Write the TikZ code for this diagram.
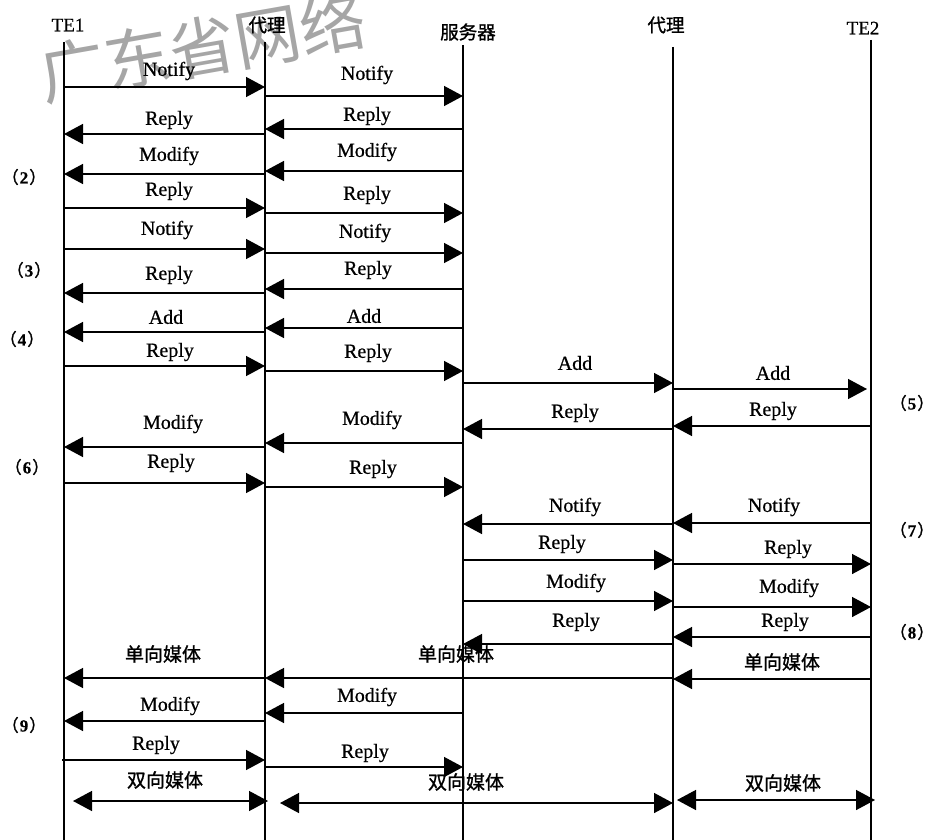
\documentclass[tikz,border=0pt]{standalone}
\usepackage{fontspec}
\setmainfont{Liberation Serif}[FakeBold=0.6]
\newfontfamily\cjk{Noto Sans CJK SC}[FakeBold=1.2]
\newfontfamily\cjkwm{Noto Sans CJK SC}
\newfontfamily\numfont{Liberation Serif}[FakeBold=0.6]
\usetikzlibrary{arrows.meta}
\tikzset{
  msg/.style={line width=1.4pt,-{Triangle[length=19pt,width=20pt]}},
  bimsg/.style={line width=1.4pt,{Triangle[length=19pt,width=20pt]}-{Triangle[length=19pt,width=20pt]}},
  lbl/.style={inner sep=0pt,font=\fontsize{20}{22}\selectfont},
  clbl/.style={inner sep=0pt,font=\cjk\fontsize{19}{21}\selectfont},
  life/.style={line width=1.2pt},
  head/.style={inner sep=0pt,font=\fontsize{19}{21}\selectfont},
  chead/.style={inner sep=0pt,font=\cjk\fontsize{18.5}{20}\selectfont},
  num/.style={inner sep=0pt,font=\fontsize{17}{19}\selectfont},
  wm/.style={inner sep=0pt,text=black!35,font=\cjkwm\fontsize{66}{66}\selectfont,rotate=10}
}
\newcommand\mm[7]{%
  \coordinate (#1s) at (#2,#4);
  \coordinate (#1e) at (#3,#4);
  \draw[msg] (#1s) -- (#1e);
  \node[lbl] (#1l) at (#6,#7) {#5};}
\newcommand\cm[7]{%
  \coordinate (#1s) at (#2,#4);
  \coordinate (#1e) at (#3,#4);
  \draw[msg] (#1s) -- (#1e);
  \node[clbl] (#1l) at (#6,#7) {#5};}
\newcommand\bm[7]{%
  \coordinate (#1s) at (#2,#4);
  \coordinate (#1e) at (#3,#4);
  \draw[bimsg] (#1s) -- (#1e);
  \node[clbl] (#1l) at (#6,#7) {#5};}
\newcommand\stepno[1]{\hspace{-6pt}{\cjk（}\hspace{1pt}{\numfont\bfseries #1}\hspace{1pt}{\cjk）}\hspace{-6pt}}
\begin{document}
\begin{tikzpicture}[x=1pt,y=-1pt]
\useasboundingbox (0,0) rectangle (934,840);
\begin{scope}
\clip (0,0) rectangle (934,840);
\node[wm] (water) at (203,47) {广东省网络};
\end{scope}
% headers
\node[head] (hte1) at (68,25) {TE1};
\node[chead] (hp1) at (267,25) {代理};
\node[chead] (hs) at (468,32) {服务器};
\node[chead] (hp2) at (666,25) {代理};
\node[head] (hte2) at (863,28) {TE2};
% lifelines
\coordinate (t1) at (64,42);  \coordinate (b1) at (64,840);
\coordinate (t2) at (265,42); \coordinate (b2) at (265,840);
\coordinate (t3) at (463,45); \coordinate (b3) at (463,840);
\coordinate (t4) at (673,47); \coordinate (b4) at (673,840);
\coordinate (t5) at (871,40); \coordinate (b5) at (871,840);
\foreach \i in {1,...,5} \draw[life] (t\i) -- (b\i);
% messages
\mm{a1}{64}{265}{87}{Notify}{169}{71}
\mm{a2}{265}{463}{96}{Notify}{367}{75}
\mm{b1}{265}{64}{134}{Reply}{169}{120}
\mm{b2}{463}{265}{129}{Reply}{367}{116}
\mm{c1}{265}{64}{174}{Modify}{169}{156}
\mm{c2}{463}{265}{171}{Modify}{367}{152}
\mm{d1}{64}{265}{208}{Reply}{169}{191}
\mm{d2}{265}{463}{213}{Reply}{367}{195}
\mm{e1}{64}{265}{249}{Notify}{167}{230}
\mm{e2}{265}{463}{253}{Notify}{365}{233}
\mm{f1}{265}{64}{293}{Reply}{169}{275}
\mm{f2}{463}{265}{289}{Reply}{368}{270}
\mm{g1}{265}{64}{332}{Add}{166}{317}
\mm{g2}{463}{265}{328}{Add}{364}{316}
\mm{h1}{64}{265}{366}{Reply}{170}{352}
\mm{h2}{265}{463}{371}{Reply}{368}{353}
\mm{i1}{463}{673}{383}{Add}{575}{363}
\mm{i2}{673}{867}{389}{Add}{773}{373}
\mm{j1}{673}{463}{429}{Reply}{575}{413}
\mm{j2}{871}{673}{426}{Reply}{773}{411}
\mm{k1}{265}{64}{447}{Modify}{173}{424}
\mm{k2}{463}{265}{443}{Modify}{372}{420}
\mm{l1}{64}{265}{483}{Reply}{171}{463}
\mm{l2}{265}{463}{487}{Reply}{373}{469}
\mm{m1}{673}{463}{524}{Notify}{575}{507}
\mm{m2}{871}{673}{523}{Notify}{774}{507}
\mm{n1}{463}{673}{560}{Reply}{562}{544}
\mm{n2}{673}{871}{564}{Reply}{788}{549}
\mm{o1}{463}{673}{601}{Modify}{576}{583}
\mm{o2}{673}{871}{607}{Modify}{789}{588}
\mm{p1}{673}{463}{644}{Reply}{576}{622}
\mm{p2}{871}{673}{637}{Reply}{785}{622}
\cm{q1}{871}{673}{679}{单向媒体}{782}{662}
\cm{q2}{673}{265}{678}{单向媒体}{456}{654}
\cm{q3}{265}{64}{678}{单向媒体}{163}{654}
\mm{r1}{463}{265}{713}{Modify}{367}{697}
\mm{r2}{265}{64}{721}{Modify}{170}{706}
\mm{s1}{62}{265}{760}{Reply}{156}{745}
\mm{s2}{265}{463}{767}{Reply}{365}{753}
\bm{u1}{73}{268}{801}{双向媒体}{165}{780}
\bm{u2}{280}{673}{803}{双向媒体}{466}{782}
\bm{u3}{677}{875}{800}{双向媒体}{783}{783}
% step numbers
\node[num] (n2) at (27,177) {\stepno{2}};
\node[num] (n3) at (32,270) {\stepno{3}};
\node[num] (n4) at (25,339) {\stepno{4}};
\node[num] (n5) at (915,403) {\stepno{5}};
\node[num] (n6) at (30,467) {\stepno{6}};
\node[num] (n7) at (915,530) {\stepno{7}};
\node[num] (n8) at (915,632) {\stepno{8}};
\node[num] (n9) at (27,725) {\stepno{9}};
\end{tikzpicture}
\end{document}
